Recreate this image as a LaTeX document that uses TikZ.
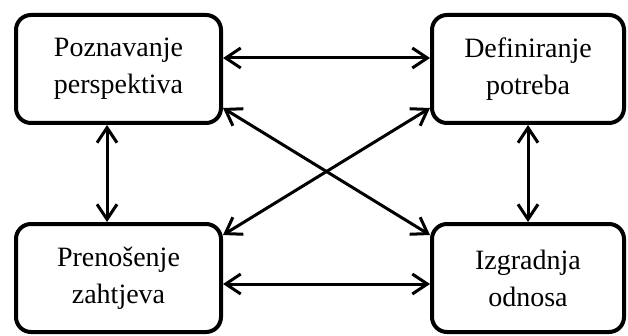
\documentclass[tikz,border=0pt]{standalone}
\usepackage{fontspec}
\setmainfont{Liberation Serif}
\usepackage{tikz}
\usetikzlibrary{arrows.meta}
\usetikzlibrary{calc}
\tikzstyle{phase}=[rectangle,rounded corners=15pt,draw,line width=4pt,align=center,font=\fontsize{28}{37}\selectfont,minimum height=108pt,inner sep=0pt]
\tikzstyle{link} = [draw,line width=3pt,{Straight Barb[length=15pt,width=20pt]}-{Straight Barb[length=15pt,width=20pt]}]

\begin{document}
\begin{tikzpicture}[x=1pt,y=1pt]
    \useasboundingbox (0,0) rectangle (628,335);
    % First we draw the four phases
    \foreach \pos/ \name/ \bw/ \txt in {{(118.5,266)/P/205/Poznavanje\\perspektiva},{(528,266)/D/192/Definiranje\\potreba},
        {(118.5,57)/R/205/Prenošenje\\zahtjeva},{(528,57)/I/192/Izgradnja\\odnosa}}
        \node[phase,minimum width=\bw pt] (\name) at \pos {\txt};

    % Connect phases with double arrows
    \foreach \source/ \dest in {{([yshift=11pt]P.east)/([yshift=11pt]D.west)},
        {([yshift=-6pt]R.east)/([yshift=-6pt]I.west)},
        {([xshift=-11.5pt]P.south)/([xshift=-11.5pt]R.north)},
        {(D.south)/(I.north)},
        {([yshift=-39pt]P.east)/([yshift=43pt]I.west)},
        {([yshift=-39pt]D.west)/([yshift=43pt]R.east)}}
        \path[link] \source -- \dest;
\end{tikzpicture}
\end{document}
